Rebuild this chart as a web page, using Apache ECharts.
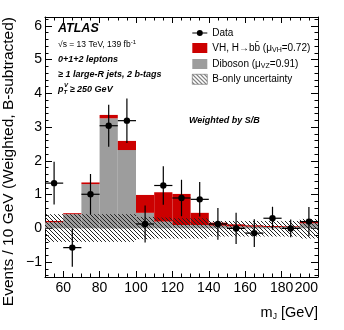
<!DOCTYPE html>
<html>
<head>
<meta charset="utf-8">
<script src="https://cdn.jsdelivr.net/npm/echarts@6/dist/echarts.min.js"></script>
<style>
  html, body { margin: 0; padding: 0; background: #fff; }
  #chart { width: 344px; height: 330px; }
</style>
</head>
<body>
<div id="chart"></div>
<script>
// bins of m_J, 10 GeV wide
var binLo = [50, 60, 70, 80, 90, 100, 110, 120, 130, 140, 150, 160, 170, 180, 190];
var binWidth = 10;
var dibosonVals = [0.18, 0.42, 1.31, 3.26, 2.32, 0.46, 0.20, 0.10, 0.10, 0.08, 0.06, 0.05, 0.04, 0.04, 0.15];
var vhVals = [0.04, 0.03, 0.05, 0.10, 0.27, 0.53, 0.87, 0.92, 0.36, 0.09, 0.06, 0.04, 0.03, 0.02, 0.04];
// B-only uncertainty band around zero
var bandUp = [0.42, 0.42, 0.42, 0.42, 0.42, 0.34, 0.32, 0.30, 0.30, 0.22, 0.22, 0.22, 0.22, 0.22, 0.28];
var bandDn = [-0.40, -0.40, -0.40, -0.40, -0.40, -0.32, -0.30, -0.30, -0.30, -0.24, -0.24, -0.24, -0.24, -0.24, -0.30];
// data points
var dataX = [55, 65, 75, 85, 95, 105, 115, 125, 135, 145, 155, 165, 175, 185, 195];
var dataY = [1.34, -0.57, 1.01, 3.04, 3.19, 0.13, 1.27, 0.90, 0.86, 0.13, 0.0, -0.14, 0.30, 0.0, 0.20];
var dataErr = [0.63, 0.57, 0.60, 0.62, 0.66, 0.55, 0.57, 0.54, 0.51, 0.47, 0.46, 0.41, 0.34, 0.26, 0.43];

var xMajorTicks = [60, 80, 100, 120, 140, 160, 180, 200];
var yMajorTicks = [-1, 0, 1, 2, 3, 4, 5, 6];
var xMinorTicks = [];
for (var x = 55; x < 200; x += 5) xMinorTicks.push(x);
var yMinorTicks = [];
for (var k = -7; k <= 31; k++) yMinorTicks.push(Math.round(k * 20) / 100);

var FONT = 'Liberation Sans, Arial, Helvetica, sans-serif';
var RED = '#cc0000';
var GREY = '#9d9d9d';

// hatch pattern for the uncertainty band
var hatch = document.createElement('canvas');
hatch.width = 4; hatch.height = 4;
var hc = hatch.getContext('2d');
hc.strokeStyle = '#222';
hc.lineWidth = 1;
hc.beginPath();
hc.moveTo(0, 0); hc.lineTo(4, 4);
hc.moveTo(-1, 3); hc.lineTo(1, 5);
hc.moveTo(3, -1); hc.lineTo(5, 1);
hc.stroke();
var hatchFill = { image: hatch, repeat: 'repeat' };

function rectItem(fill) {
    return function (params, api) {
        var lo = api.value(0);
        var a = api.coord([lo, api.value(2)]);
        var b = api.coord([lo + binWidth, api.value(1)]);
        return {
            type: 'rect',
            shape: { x: a[0], y: a[1], width: b[0] - a[0], height: b[1] - a[1] },
            style: { fill: fill }
        };
    };
}

function xAxisDef(pos, ticks, len, major) {
    return {
        type: 'value', min: 50, max: 200, position: pos,
        axisLine: { show: major, onZero: false, lineStyle: { color: '#000', width: 1 } },
        axisTick: { show: true, inside: true, length: len, customValues: ticks, lineStyle: { color: '#000' } },
        axisLabel: (major && pos === 'bottom') ? {
            show: true, customValues: xMajorTicks, color: '#000', fontFamily: FONT, fontSize: 14,
            margin: 4, alignMaxLabel: 'right'
        } : { show: false },
        splitLine: { show: false }
    };
}
function yAxisDef(pos, ticks, len, major) {
    return {
        type: 'value', min: -1.44, max: 6.26, position: pos,
        axisLine: { show: major, onZero: false, lineStyle: { color: '#000', width: 1 } },
        axisTick: { show: true, inside: true, length: len, customValues: ticks, lineStyle: { color: '#000' } },
        axisLabel: (major && pos === 'left') ? {
            show: true, customValues: yMajorTicks, color: '#000', fontFamily: FONT, fontSize: 14,
            margin: 3, formatter: function (v) { return v < 0 ? '\u2212' + (-v) : String(v); }
        } : { show: false },
        splitLine: { show: false }
    };
}

var chart = echarts.init(document.getElementById('chart'));
chart.setOption({
    animation: false,
    backgroundColor: '#fff',
    grid: { left: 45, right: 26, top: 17, bottom: 53 },
    xAxis: [
        xAxisDef('bottom', xMajorTicks, 6, true),
        xAxisDef('bottom', xMinorTicks, 3.5, false),
        xAxisDef('top', xMajorTicks, 6, true),
        xAxisDef('top', xMinorTicks, 3.5, false)
    ],
    yAxis: [
        yAxisDef('left', yMajorTicks, 7, true),
        yAxisDef('left', yMinorTicks, 3.5, false),
        yAxisDef('right', yMajorTicks, 7, true),
        yAxisDef('right', yMinorTicks, 3.5, false)
    ],
    legend: {
        orient: 'vertical', left: 192, top: 28, padding: 0,
        itemWidth: 15, itemHeight: 10, itemGap: 4,
        textStyle: {
            color: '#000', fontFamily: FONT, fontSize: 10, lineHeight: 10,
            rich: { sub: { fontFamily: FONT, fontSize: 7, color: '#000', lineHeight: 10, padding: [5, 0, 0, 0] } }
        },
        formatter: function (name) {
            return {
                Data: 'Data',
                VH: 'VH, H\u2192bb\u0304 (\u03bc{sub|VH}=0.72)',
                Diboson: 'Diboson (\u03bc{sub|VZ}=0.91)',
                Bonly: 'B-only uncertainty'
            }[name];
        },
        data: [
            { name: 'Data', icon: 'path://M0,2.6H15V3.4H0Z M4.5,3A3,3,0,0,1,10.5,3A3,3,0,0,1,4.5,3Z', itemStyle: { color: '#000' } },
            { name: 'VH', icon: 'rect', itemStyle: { color: RED } },
            { name: 'Diboson', icon: 'rect', itemStyle: { color: GREY } },
            { name: 'Bonly', icon: 'rect', itemStyle: { color: hatchFill, borderColor: '#666', borderWidth: 0.6 } }
        ]
    },
    graphic: [
        { type: 'text', x: 58, y: 29, style: { text: 'ATLAS', fontFamily: FONT, fontSize: 12.5, fontWeight: 'bold', fontStyle: 'italic', fill: '#000', verticalAlign: 'middle' } },
        { type: 'text', x: 58, y: 45, style: {
            text: '\u221as = 13 TeV, 139 fb{sup|-1}', fontFamily: FONT, fontSize: 8.5, fill: '#000', verticalAlign: 'middle',
            rich: { sup: { fontFamily: FONT, fontSize: 6, padding: [0, 0, 5, 0] } } } },
        { type: 'text', x: 58, y: 60, style: { text: '0+1+2 leptons', fontFamily: FONT, fontSize: 9, fontWeight: 'bold', fontStyle: 'italic', fill: '#000', verticalAlign: 'middle' } },
        { type: 'text', x: 58, y: 75, style: { text: '\u2265 1 large-R jets, 2 b-tags', fontFamily: FONT, fontSize: 9, fontWeight: 'bold', fontStyle: 'italic', fill: '#000', verticalAlign: 'middle' } },
        { type: 'text', x: 58, y: 90, style: {
            text: 'p{sub|T} \u2265 250 GeV', fontFamily: FONT, fontSize: 9, fontWeight: 'bold', fontStyle: 'italic', fill: '#000', verticalAlign: 'middle',
            rich: { sub: { fontFamily: FONT, fontSize: 6, fontWeight: 'bold', fontStyle: 'italic', padding: [5, 0, 0, 0] } } } },
        { type: 'text', x: 64, y: 85, style: { text: 'V', fontFamily: FONT, fontSize: 6, fontWeight: 'bold', fontStyle: 'italic', fill: '#000', verticalAlign: 'middle' } },
        { type: 'text', x: 189, y: 121, style: { text: 'Weighted by S/B', fontFamily: FONT, fontSize: 9, fontWeight: 'bold', fontStyle: 'italic', fill: '#000', verticalAlign: 'middle' } },
        { type: 'text', x: 9, y: 17, rotation: Math.PI / 2, style: {
            text: 'Events / 10 GeV (Weighted, B-subtracted)', fontFamily: FONT, fontSize: 15.5, fill: '#000', align: 'right', verticalAlign: 'middle' } },
        { type: 'text', x: 318, y: 313, style: {
            text: 'm{sub|J} [GeV]', fontFamily: FONT, fontSize: 14.5, fill: '#000', align: 'right', verticalAlign: 'middle',
            rich: { sub: { fontFamily: FONT, fontSize: 8.5, padding: [7, 0, 0, 0] } } } }
    ],
    series: [
        {
            name: 'Diboson', type: 'custom', xAxisIndex: 0, yAxisIndex: 0,
            itemStyle: { color: GREY },
            renderItem: rectItem(GREY),
            data: binLo.map(function (lo, i) { return [lo, 0, dibosonVals[i]]; })
        },
        {
            name: 'VH', type: 'custom', xAxisIndex: 0, yAxisIndex: 0,
            itemStyle: { color: RED },
            renderItem: rectItem(RED),
            data: binLo.map(function (lo, i) { return [lo, dibosonVals[i], dibosonVals[i] + vhVals[i]]; })
        },
        {
            name: 'Bonly', type: 'custom', xAxisIndex: 0, yAxisIndex: 0,
            itemStyle: { color: hatchFill },
            renderItem: rectItem(hatchFill),
            data: binLo.map(function (lo, i) { return [lo, bandDn[i], bandUp[i]]; })
        },
        {
            name: 'Data', type: 'custom', xAxisIndex: 0, yAxisIndex: 0,
            itemStyle: { color: '#000' },
            renderItem: function (params, api) {
                var x = api.value(0), y = api.value(1), e = api.value(2);
                var c = api.coord([x, y]);
                var l = api.coord([x - binWidth / 2, y]), r = api.coord([x + binWidth / 2, y]);
                var t = api.coord([x, y + e]), b = api.coord([x, y - e]);
                var ls = { stroke: '#000', lineWidth: 1.2 };
                return {
                    type: 'group',
                    children: [
                        { type: 'line', shape: { x1: l[0], y1: l[1], x2: r[0], y2: r[1] }, style: ls },
                        { type: 'line', shape: { x1: t[0], y1: t[1], x2: b[0], y2: b[1] }, style: ls },
                        { type: 'circle', shape: { cx: c[0], cy: c[1], r: 3.2 }, style: { fill: '#000' } }
                    ]
                };
            },
            data: dataX.map(function (x, i) { return [x, dataY[i], dataErr[i]]; })
        }
    ]
});
</script>
</body>
</html>
